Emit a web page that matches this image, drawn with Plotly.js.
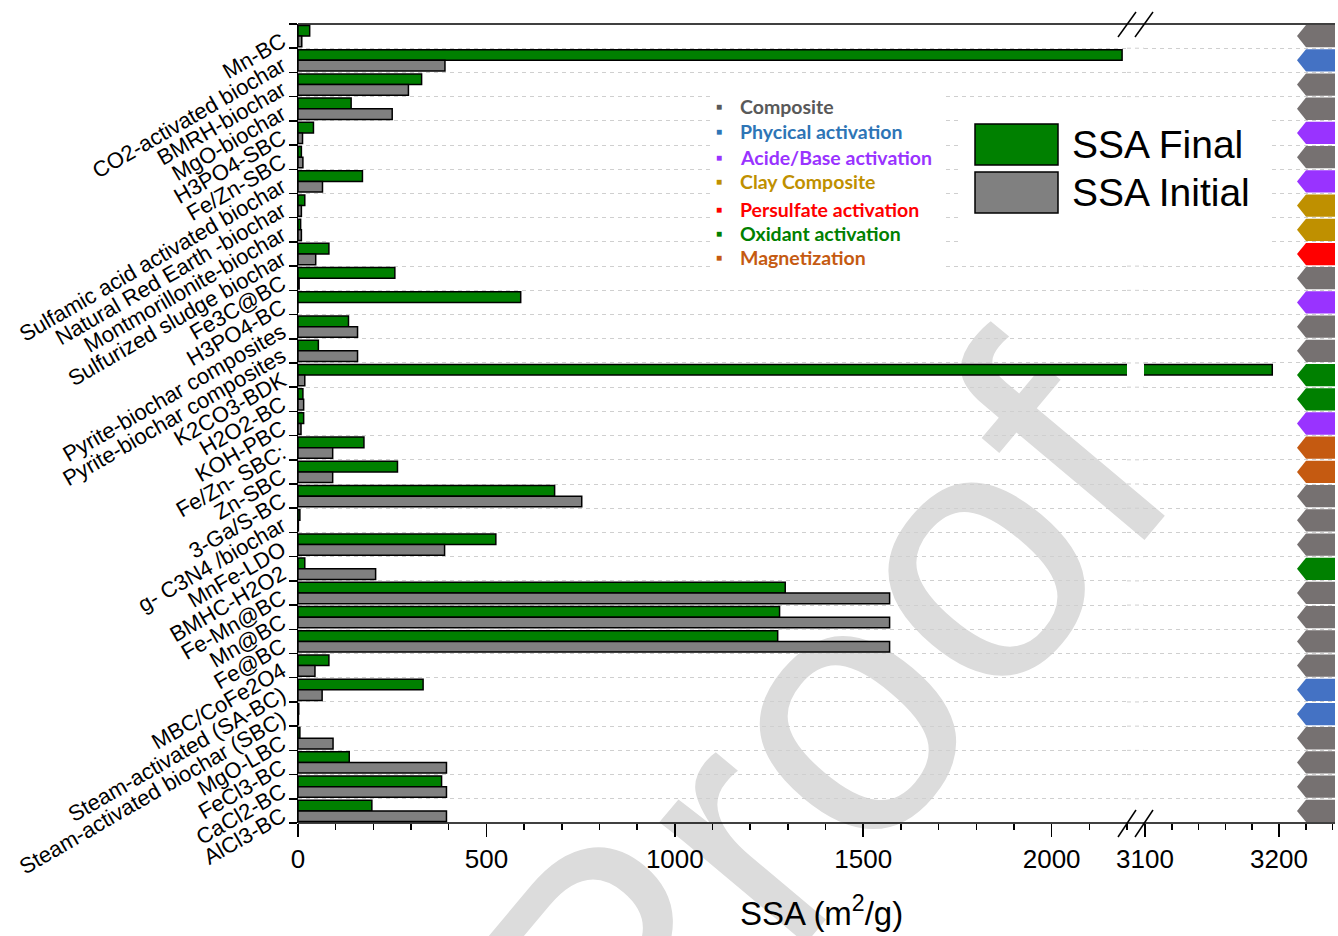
<!DOCTYPE html>
<html>
<head>
<meta charset="utf-8">
<script src="https://cdn.plot.ly/plotly-3.0.1.min.js"></script>
<style>html,body{margin:0;padding:0;background:#fff;}#chart{width:1338px;height:936px;}</style>
</head>
<body>
<div id="chart"></div>
<script>
// ---------- data ----------
const categories = ['Mn-BC','CO2-activated biochar','BMRH-biochar','MgO-biochar','H3PO4-SBC','Fe/Zn-SBC',
  'Sulfamic acid activated biochar','Natural Red Earth -biochar','Montmorillonite-biochar','Sulfurized sludge biochar',
  'Fe3C@BC','H3PO4-BC','Pyrite-biochar composites','Pyrite-biochar composites','K2CO3-BDK','H2O2-BC','KOH-PBC',
  'Fe/Zn- SBC:','Zn-SBC','3-Ga/S-BC','g- C3N4 /biochar','MnFe-LDO','BMHC-H2O2','Fe-Mn@BC','Mn@BC','Fe@BC',
  'MBC/CoFe2O4','Steam-activated (SA-BC)','Steam-activated biochar (SBC)','MgO-LBC','FeCl3-BC','CaCl2-BC','AlCl3-BC'];
const ssaFinal   = [31, 2187, 328, 141, 41, 9, 171, 18, 7, 82, 257, 591, 134, 54, 3195, 13, 15, 175, 264, 681, 5, 525, 18, 1293, 1278, 1273, 82, 332, 2, 5, 136, 381, 196];
const ssaInitial = [10, 390, 293, 250, 12, 13, 65, 9, 9, 47, 3, 0, 158, 158, 18, 15, 8, 92, 92, 753, 1, 389, 206, 1570, 1570, 1570, 45, 64, 1, 93, 394, 394, 394];
const treatment = ['Composite','Phycical activation','Composite','Composite','Acide/Base activation','Composite',
  'Acide/Base activation','Clay Composite','Clay Composite','Persulfate activation','Composite','Acide/Base activation',
  'Composite','Composite','Oxidant activation','Oxidant activation','Acide/Base activation','Magnetization','Magnetization',
  'Composite','Composite','Composite','Oxidant activation','Composite','Composite','Composite','Composite',
  'Phycical activation','Phycical activation','Composite','Composite','Composite','Composite'];
const treatmentNames = ['Composite','Phycical activation','Acide/Base activation','Clay Composite','Persulfate activation','Oxidant activation','Magnetization'];
const tagColors  = ['#767171','#4472c4','#9933ff','#bf9000','#ff0000','#008000','#c55a11'];
const textColors = ['#595959','#2e75b6','#9933ff','#bf9000','#ff0000','#008000','#c55a11'];
const seriesNames = ['SSA Final','SSA Initial'];
const seriesColors = ['#008000','#808080'];

// ---------- geometry helpers (pixel -> paper) ----------
const L = 298, R = 1335, T = 24, B = 823;
const pX = p => (p - L) / (R - L);
const pY = p => (B - p) / (B - T);

const idx = categories.map((_, i) => i);

function barTrace(vals, k, xa) {
  return {
    type: 'bar', orientation: 'h', y: idx, x: vals, name: seriesNames[k],
    xaxis: xa, yaxis: 'y', showlegend: false,
    marker: { color: seriesColors[k], line: { color: '#000', width: 1.5 } },
    hovertemplate: '%{x}<extra>' + seriesNames[k] + '</extra>'
  };
}
const data = [
  barTrace(ssaFinal, 0, 'x'), barTrace(ssaInitial, 1, 'x'),
  barTrace(ssaFinal, 0, 'x2'), barTrace(ssaInitial, 1, 'x2')
];

const shapes = [];
// watermark
shapes.push({ type: 'rect', xref: 'paper', yref: 'paper', x0: pX(690), x1: pX(890), y0: pY(775), y1: pY(655),
  line: { width: 0 }, fillcolor: 'rgba(0,0,0,0)', layer: 'below',
  label: { text: 'Proof', textangle: -50, textposition: 'middle center',
           font: { size: 360, color: '#dcdcdc', family: 'Liberation Sans, Arial, sans-serif' } } });
// white legend backgrounds
shapes.push({ type: 'rect', xref: 'paper', yref: 'paper', x0: pX(712), x1: pX(945), y0: pY(278), y1: pY(88),
  line: { width: 0 }, fillcolor: '#fff', layer: 'above' });
shapes.push({ type: 'rect', xref: 'paper', yref: 'paper', x0: pX(962), x1: pX(1270), y0: pY(250), y1: pY(103),
  line: { width: 0 }, fillcolor: '#fff', layer: 'above' });
// gridline continuation across the axis break
idx.forEach(i => {
  shapes.push({ type: 'line', xref: 'paper', yref: 'y', x0: pX(1127), x1: pX(1144), y0: i + 0.5, y1: i + 0.5,
    line: { color: '#cfcfcf', width: 1, dash: '4px,4px' }, layer: 'below' });
});
// frame lines
shapes.push({ type: 'line', xref: 'paper', yref: 'paper', x0: 0, x1: 1, y0: 1, y1: 1, line: { color: '#000', width: 1.5 } });
shapes.push({ type: 'line', xref: 'paper', yref: 'paper', x0: 0, x1: 1, y0: 0, y1: 0, line: { color: '#000', width: 1.5 } });
// break marks
[[1118, 1136], [1135, 1153]].forEach(([a, b]) => {
  shapes.push({ type: 'line', xref: 'paper', yref: 'paper', x0: pX(a), x1: pX(b), y0: pY(T + 13), y1: pY(T - 12), line: { color: '#000', width: 1.5 } });
  shapes.push({ type: 'line', xref: 'paper', yref: 'paper', x0: pX(a), x1: pX(b), y0: pY(B + 14), y1: pY(B - 13), line: { color: '#000', width: 1.5 } });
});
// treatment tags on the right
const xTip = pX(1297), xBody = pX(1306);
treatment.forEach((t, i) => {
  const c = tagColors[treatmentNames.indexOf(t)];
  const a = i - 0.46, b = i + 0.46;
  shapes.push({ type: 'path', xref: 'paper', yref: 'y', layer: 'above',
    path: `M ${xBody},${a} L 1,${a} L 1,${b} L ${xBody},${b} L ${xTip},${i} Z`,
    fillcolor: c, line: { width: 0 } });
});
// SSA legend swatches
shapes.push({ type: 'rect', xref: 'paper', yref: 'paper', x0: pX(975), x1: pX(1058), y0: pY(165), y1: pY(124),
  fillcolor: seriesColors[0], line: { color: '#000', width: 1.5 }, layer: 'above' });
shapes.push({ type: 'rect', xref: 'paper', yref: 'paper', x0: pX(975), x1: pX(1058), y0: pY(213), y1: pY(172),
  fillcolor: seriesColors[1], line: { color: '#000', width: 1.5 }, layer: 'above' });

const annotations = [];
const legendY = [107, 131, 157, 182, 209, 233, 257];
treatmentNames.forEach((n, k) => {
  const yy = pY(legendY[k]);
  annotations.push({ xref: 'paper', yref: 'paper', x: pX(719), y: yy, xanchor: 'center', yanchor: 'middle',
    text: '■', showarrow: false, font: { size: 10, color: textColors[k] } });
  annotations.push({ xref: 'paper', yref: 'paper', x: pX(738), y: yy, xanchor: 'left', yanchor: 'middle',
    text: '<b>' + n + '</b>', showarrow: false, font: { size: 19.5, color: textColors[k], family: 'Lato, Open Sans, sans-serif' } });
});
seriesNames.forEach((n, k) => {
  annotations.push({ xref: 'paper', yref: 'paper', x: pX(1070), y: pY(144 + k * 48), xanchor: 'left', yanchor: 'middle',
    text: n, showarrow: false, font: { size: 39, color: '#000', family: 'Liberation Sans, Arial, sans-serif' } });
});
annotations.push({ xref: 'paper', yref: 'paper', x: pX(821), y: pY(911), xanchor: 'center', yanchor: 'middle',
  text: 'SSA (m<sup>2</sup>/g)', showarrow: false, font: { size: 33, color: '#000', family: 'Liberation Sans, Arial, sans-serif' } });

const xTickCommon = {
  anchor: 'y', ticks: 'outside', ticklen: 13, tickwidth: 1.5, tickcolor: '#000',
  tickfont: { size: 26, color: '#000', family: 'Liberation Sans, Arial, sans-serif' },
  showgrid: false, zeroline: false, showline: false, fixedrange: true, ticklabelstandoff: 0
};

const layout = {
  width: 1338, height: 936,
  margin: { l: L, r: 1338 - R, t: T, b: 936 - B },
  paper_bgcolor: '#fff', plot_bgcolor: 'rgba(0,0,0,0)',
  font: { family: 'Liberation Sans, Arial, sans-serif', color: '#000' },
  showlegend: false, barmode: 'group', bargap: 0.12, bargroupgap: 0,
  xaxis: Object.assign({}, xTickCommon, {
    domain: [0, pX(1127)], range: [0, 2200], tickmode: 'linear', tick0: 0, dtick: 500,
    minor: { tick0: 0, dtick: 100, ticks: 'outside', ticklen: 6, tickwidth: 1.5, tickcolor: '#000', showgrid: false }
  }),
  xaxis2: Object.assign({}, xTickCommon, {
    domain: [pX(1144), 1], range: [3099.3, 3241.8], tickmode: 'linear', tick0: 3000, dtick: 100,
    minor: { tick0: 3000, dtick: 20, ticks: 'outside', ticklen: 6, tickwidth: 1.5, tickcolor: '#000', showgrid: false }
  }),
  yaxis: {
    range: [categories.length - 0.5, -0.5], tickmode: 'array', tickvals: idx, ticktext: categories,
    tickangle: -30, tickfont: { size: 22, color: '#000', family: 'Liberation Sans, Arial, sans-serif' },
    ticks: '', showline: true, linecolor: '#000', linewidth: 1.5, showgrid: false, zeroline: false,
    fixedrange: true, ticklabelstandoff: 10, ticklabelshift: -3,
    minor: { tickmode: 'array', tickvals: [-0.5].concat(idx.map(i => i + 0.5)), ticks: 'outside', ticklen: 8,
             tickwidth: 1.5, tickcolor: '#000', showgrid: true, gridcolor: '#cfcfcf', griddash: '4px,4px', gridwidth: 1 }
  },
  shapes: shapes,
  annotations: annotations
};

Plotly.newPlot('chart', data, layout, { displayModeBar: false, staticPlot: true });
</script>
</body>
</html>
